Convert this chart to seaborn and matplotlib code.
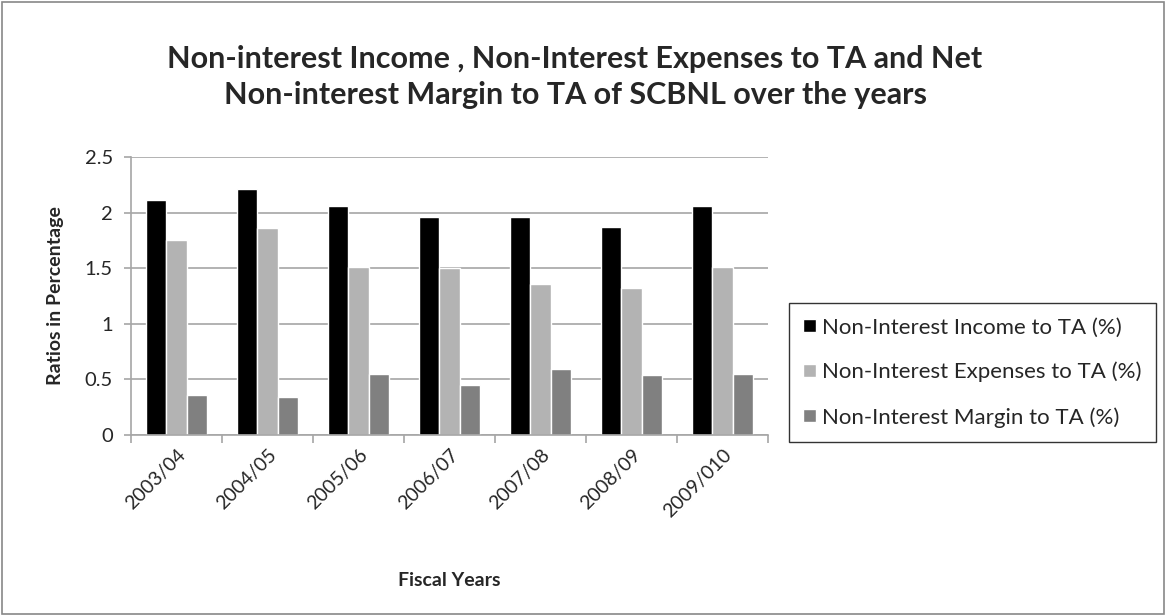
import matplotlib
matplotlib.use("Agg")
import matplotlib.pyplot as plt
import seaborn as sns
import pandas as pd
import numpy as np
from matplotlib.patches import Rectangle

years = ["2003/04", "2004/05", "2005/06", "2006/07", "2007/08", "2008/09", "2009/010"]
income = [2.11, 2.21, 2.06, 1.96, 1.96, 1.87, 2.06]
expenses = [1.75, 1.86, 1.51, 1.50, 1.36, 1.32, 1.51]
margin = [0.36, 0.34, 0.55, 0.45, 0.59, 0.54, 0.55]
series_names = ["Non-Interest Income to TA (%)",
                "Non-Interest Expenses to TA (%)",
                "Non-Interest Margin to TA (%)"]
colors = ["#000000", "#b3b3b3", "#808080"]

df = pd.DataFrame({
    "year": years * 3,
    "value": income + expenses + margin,
    "series": [series_names[0]] * 7 + [series_names[1]] * 7 + [series_names[2]] * 7,
})

sns.set_theme(style="white")
plt.rcParams['font.family'] = ['Lato', 'DejaVu Sans']

fig = plt.figure(figsize=(11.66, 6.16), dpi=100)
ax = fig.add_axes([131/1166, 1 - 435/616, (768-131)/1166, (435-157)/616])

sns.barplot(data=df, x="year", y="value", hue="series", palette=colors,
            width=0.66, gap=0, ax=ax, saturation=1, legend=True)

ax.set_ylim(0, 2.5)
ax.set_xlim(-0.5, 6.5)
ax.set_yticks(np.arange(0, 2.51, 0.5))
ax.set_yticklabels(["0", "0.5", "1", "1.5", "2", "2.5"], fontsize=14.5)
ax.yaxis.grid(True, color="#a6a6a6", linewidth=1.2)
ax.set_axisbelow(True)
for s in ["top", "right"]:
    ax.spines[s].set_visible(False)
for s in ["left", "bottom"]:
    ax.spines[s].set_color("#a6a6a6")
    ax.spines[s].set_linewidth(1.2)

ax.set_xticks(range(7))
ax.set_xticklabels(years, rotation=45, ha="right", rotation_mode="anchor", fontsize=14)
ax.tick_params(axis="x", length=0, pad=8)
ax.set_xticks(np.arange(-0.5, 7, 1), minor=True)
ax.tick_params(axis="x", which="minor", length=6, color="#a6a6a6", width=1.2, direction="out", bottom=True)
ax.tick_params(axis="y", length=5, color="#a6a6a6", width=1.2, direction="out", left=True, pad=8)

ax.set_xlabel("Fiscal Years", fontsize=14, fontweight="bold", labelpad=37)
ax.set_ylabel("Ratios in Percentage", fontsize=14, fontweight="bold", labelpad=15)

leg = ax.legend(loc="upper left", bbox_to_anchor=(789/1166, 1 - 303/616),
                bbox_transform=fig.transFigure, fontsize=16, frameon=True,
                handlelength=0.55, handleheight=0.55, handletextpad=0.3,
                labelspacing=1.1, borderpad=0.65, borderaxespad=0, fancybox=False)
leg.get_frame().set_edgecolor("black")
leg.get_frame().set_linewidth(1.0)

fig.text(575/1166, 1 - 59/616, "Non-interest Income , Non-Interest Expenses to TA and Net",
         ha="center", va="center", fontsize=22, fontweight="bold")
fig.text(575/1166, 1 - 95/616, "Non-interest Margin to TA of SCBNL over the years",
         ha="center", va="center", fontsize=22, fontweight="bold")

fig.patches.append(Rectangle((0.002, 0.003), 0.996, 0.994, transform=fig.transFigure,
                             fill=False, edgecolor="#888888", linewidth=1.2))

fig.savefig("out.png", dpi=100)
